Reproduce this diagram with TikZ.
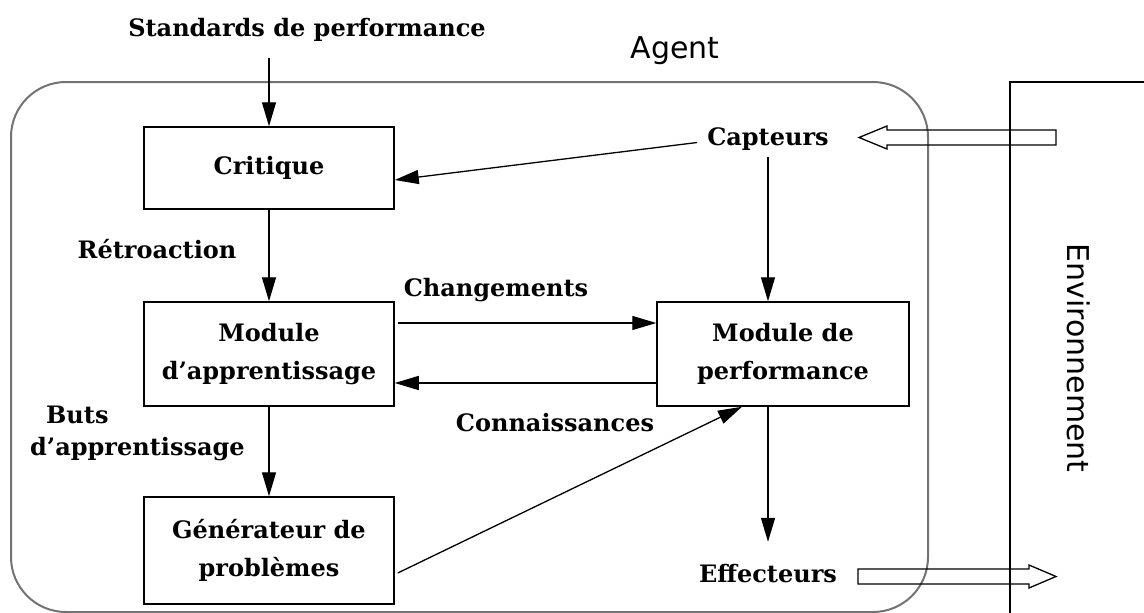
\documentclass[tikz,border=0pt]{standalone}
\usepackage{fontspec}
\setmainfont{DejaVu Serif}
\newfontfamily\sansfam{DejaVu Sans}
\usetikzlibrary{arrows.meta}
\newcommand\lfont{\bfseries\fontsize{24}{38}\selectfont}
\newcommand\sfont{\sansfam\fontsize{30}{36}\selectfont}
\begin{document}
\begin{tikzpicture}[x=1pt,y=-1pt,
  lbl/.style={inner sep=0pt, font=\lfont, text height=17pt, text depth=6pt},
  sanslbl/.style={inner sep=0pt, font=\sfont},
  box/.style={draw, line width=1.5pt, minimum width=250pt, inner sep=0pt, align=center, font=\lfont},
  arr/.style={line width=1.3pt, -{Triangle[length=24pt,width=14pt]}},
  hollow/.style={draw, line width=1.3pt, line join=miter},
  frame/.style={draw=black!55, line width=2pt, rounded corners=55pt}]
\clip (0,0) rectangle (1144,613);
\fill[white] (0,0) rectangle (1144,613);
% agent frame and environment
\draw[frame] (11,82) rectangle (928,612);
\draw[line width=1.3pt] (1010,700) -- (1010,82) -- (1200,82);
% labels
\node[lbl, anchor=base] (std) at (307,36) {Standards de performance};
\node[sanslbl, anchor=base] (agent) at (675,58) {Agent};
\node[lbl, anchor=base] (capt) at (768,145) {Capteurs};
\node[lbl, anchor=base] (retro) at (157,258) {Rétroaction};
\node[lbl, anchor=base] (chg) at (496,296) {Changements};
\node[lbl, anchor=base] (conn) at (555,431) {Connaissances};
\node[inner sep=0pt, font=\bfseries\fontsize{24}{32}\selectfont, align=left, anchor=west] (buts) at (30,433) {\hspace*{16pt}Buts\\d’apprentissage};
\node[lbl, anchor=base] (eff) at (768,582) {Effecteurs};
\node[sanslbl, rotate=-90] (env) at (1079,358) {Environnement};
% boxes
\node[box, minimum height=82pt] (crit) at (269,168) {Critique};
\node[box, minimum height=104pt] (mapp) at (269,354) {Module\\d’apprentissage};
\node[box, minimum width=252pt, minimum height=104pt] (mperf) at (783,354) {Module de\\performance};
\node[box, minimum height=107pt] (gen) at (269,550.5) {Générateur de\\problèmes};
% connectors
\draw[arr] ([yshift=-16pt]crit.north |- std.south) -- (crit.north);
\draw[arr] ([xshift=-10pt,yshift=-3pt]capt.west) -- ([yshift=-12pt]crit.east);
\draw[arr] (crit.south) -- (mapp.north);
\draw[arr] ([xshift=3pt,yshift=31pt]mapp.east) -- ([yshift=31pt]mperf.west);
\draw[arr] ([yshift=-29pt]mperf.west) -- ([yshift=-29pt]mapp.east);
\draw[arr] (mapp.south) -- (gen.north);
\draw[arr] ([xshift=3pt,yshift=-22.5pt]gen.east) -- ([xshift=-41pt]mperf.south);
\draw[arr, shorten <=6pt] (capt.south) -- (capt.south |- mperf.north);
\draw[arr, shorten >=23pt] (eff.north |- mperf.south) -- (eff.north);
% hollow arrows (sensors in, effectors out)
\draw[hollow] (859,137.5) -- (887,126) -- (887,130) -- (1056,130) -- (1056,145) -- (887,145) -- (887,149) -- cycle;
\draw[hollow] (858,569) -- (1029,569) -- (1029,565) -- (1056,576.5) -- (1029,588) -- (1029,584) -- (858,584) -- cycle;
\end{tikzpicture}
\end{document}
